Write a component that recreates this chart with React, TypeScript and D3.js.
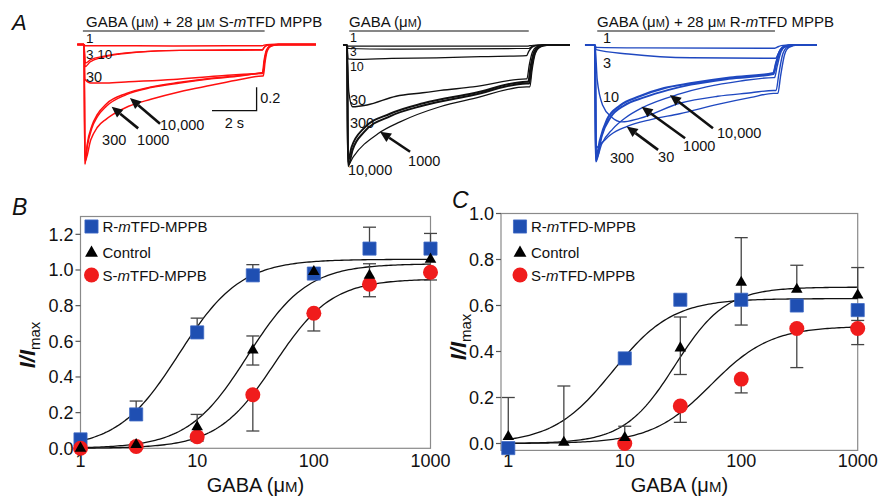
import React from 'react';
import * as d3 from 'd3';

const W = 878;
const H = 497;
const FONT = '"Liberation Sans", Arial, Helvetica, sans-serif';
type Pt = [number, number];

// ---------------- Panel A: current traces (time in s, current normalised to peak) ----------------
// recovery shape after GABA wash-out: [dt (s), fraction of current at end of application]
const recRed: Pt[] = [[0, 1], [0.08, 0.55], [0.18, 0.2], [0.35, 0.05], [0.7, 0]];
const recBlack: Pt[] = [[0, 1], [0.1, 0.6], [0.25, 0.2], [0.45, 0.05], [0.8, 0]];
const recBlue: Pt[] = [[0, 1], [0.12, 0.65], [0.3, 0.2], [0.5, 0.05], [0.9, 0]];

// GABA + S-mTFD-MPPB (red)
const sTrace1: Pt[] = [[0.05, 0.01], [4, 0.012], [8.0, 0.01]];
const sTrace3: Pt[] = [[0.06, 0.16], [0.3, 0.13], [0.9, 0.1], [2, 0.07], [4.3, 0.05], [8.0, 0.045]];
const sTrace10: Pt[] = [[0.05, 0.19], [0.27, 0.15], [0.83, 0.11], [1.6, 0.082], [2.35, 0.066], [4.3, 0.05], [6, 0.05], [8.0, 0.048]];
const sTrace30: Pt[] = [[0.05, 0.3], [0.3, 0.33], [1, 0.33], [2, 0.32], [4, 0.3], [6, 0.27], [8.0, 0.25]];
const sTrace300: Pt[] = [[0.05, 1.0], [0.3, 0.82], [0.6, 0.71], [1.0, 0.64], [1.3, 0.6], [2.0, 0.53], [3.0, 0.47], [4.3, 0.405], [5.7, 0.35], [7.0, 0.3], [8.0, 0.27]];
const sTrace1000: Pt[] = [[0.04, 1.03], [0.15, 0.85], [0.35, 0.7], [0.6, 0.6], [1.0, 0.51], [1.9, 0.42], [3.0, 0.365], [4.3, 0.325], [5.7, 0.29], [7.0, 0.265], [8.0, 0.24]];
const sTrace10000: Pt[] = [[0.04, 1.02], [0.15, 0.87], [0.35, 0.72], [0.6, 0.62], [1.0, 0.53], [1.9, 0.43], [3.0, 0.37], [4.3, 0.33], [5.7, 0.295], [7.0, 0.27], [8.0, 0.245]];

// GABA alone (black)
const cTrace1: Pt[] = [[0.05, 0.01], [8.05, 0.01]];
const cTrace3: Pt[] = [[0.05, 0.03], [2, 0.035], [8.05, 0.03]];
const cTrace10: Pt[] = [[0.05, 0.12], [0.3, 0.123], [2, 0.115], [4, 0.11], [6, 0.1], [8.05, 0.092]];
const cTrace30: Pt[] = [[0.08, 0.4], [0.25, 0.53], [0.9, 0.515], [2.2, 0.44], [3.4, 0.41], [4.2, 0.39], [5.65, 0.36], [8.05, 0.29]];
const cTrace300: Pt[] = [[0.04, 1.0], [0.2, 0.88], [0.73, 0.72], [1.93, 0.59], [3.42, 0.5], [5.66, 0.415], [8.05, 0.315]];
const cTrace1000: Pt[] = [[0.05, 1.03], [0.28, 0.96], [1.4, 0.76], [2.38, 0.66], [4.17, 0.53], [5.66, 0.46], [8.05, 0.36]];
const cTrace10000: Pt[] = [[0.05, 1.04], [0.25, 0.9], [0.75, 0.75], [1.95, 0.61], [3.42, 0.52], [5.66, 0.43], [8.05, 0.33]];

// GABA + R-mTFD-MPPB (blue)
const rTrace1: Pt[] = [[0.05, 0.02], [2, 0.025], [8.0, 0.028]];
const rTrace3: Pt[] = [[0.05, 0.04], [1.5, 0.077], [4.3, 0.11], [8.0, 0.114]];
const rTrace10: Pt[] = [[0.1, 0.3], [0.35, 0.52], [0.75, 0.62], [1.2, 0.66], [2, 0.63], [3.8, 0.5], [5.5, 0.44], [7, 0.41], [8.0, 0.39]];
const rTrace30: Pt[] = [[0.05, 0.88], [0.3, 0.84], [0.7, 0.77], [1.42, 0.7], [2.5, 0.64], [3.8, 0.59], [5.5, 0.51], [7, 0.45], [8.0, 0.415]];
const rTrace300: Pt[] = [[0.04, 1.0], [0.3, 0.78], [0.7, 0.62], [1.3, 0.52], [2.2, 0.45], [3.3, 0.385], [4.3, 0.34], [6, 0.29], [8.0, 0.25]];
const rTrace1000: Pt[] = [[0.05, 0.98], [0.3, 0.85], [0.8, 0.72], [1.4, 0.62], [2.1, 0.54], [3.8, 0.42], [5, 0.36], [6.5, 0.31], [8.0, 0.28]];
const rTrace10000: Pt[] = [[0.03, 0.99], [0.22, 0.82], [0.54, 0.64], [1.12, 0.52], [2.0, 0.44], [3.1, 0.37], [4.26, 0.33], [6.05, 0.28], [8.0, 0.24]];

// ---------------- Panel B / C: concentration-response data ----------------
const concAll = [1, 3, 10, 30, 100, 300, 1000];
const xTicks = [1, 10, 100, 1000];

// B
const bR = [0.05, 0.19, 0.65, 0.97, 0.98, 1.12, 1.12];
const bRHi = [null, 0.265, 0.73, 1.03, null, 1.24, 1.205];
const bCtl = [0.0, 0.02, 0.12, 0.55, 0.99, 0.97, 1.06];
const bCtlHi = [null, null, 0.19, 0.63, null, 1.035, 1.1];
const bCtlLo = [null, null, null, 0.467, null, null, null];
const bS = [0.0, 0.01, 0.065, 0.3, 0.757, 0.92, 0.987];
const bSLo = [null, null, 0.04, 0.097, 0.658, 0.85, 0.944];
const bYTicks = [0, 0.2, 0.4, 0.6, 0.8, 1.0, 1.2];
// Hill fits [R, Control, S]
const bFitTop = [1.06, 1.035, 0.95];
const bFitEC50 = [7.0, 27, 46];
const bFitN = [1.65, 1.7, 1.77];

// C
const cConcR = [1, 10, 30, 100, 300, 1000];
const cR = [-0.02, 0.37, 0.625, 0.625, 0.6, 0.58];
const cRLo = [null, null, null, null, null, 0.535];
const cCtl = [0.03, 0.005, 0.025, 0.415, 0.7, 0.67, 0.645];
const cCtlHi = [0.2, 0.25, 0.075, 0.55, 0.895, 0.775, 0.765];
const cCtlLo = [null, null, null, 0.3, 0.515, null, null];
const cConcS = [10, 30, 100, 300, 1000];
const cS = [0.0, 0.163, 0.28, 0.5, 0.5];
const cSLo = [null, 0.092, 0.22, 0.33, 0.43];
const cYTicks = [0, 0.2, 0.4, 0.6, 0.8, 1.0];
const cFitTop = [0.63, 0.68, 0.51];
const cFitEC50 = [7.9, 27, 55];
const cFitN = [1.7, 2.0, 1.7];

const RED = '#f01c1c';
const BLUE = '#1f4fb2';
const TRACE_RED = '#ff1010';
const TRACE_BLUE = '#1f48c0';

const PX_PER_S = 22.3;
const PX_PER_UNIT = 116.5;

type Ann = { text: string; t: number; i: number; size?: number };
type Arrow = { from: Pt; to: Pt };

function Micro({ size }: { size: number }) {
  return (
    <>
      μ<tspan fontSize={size}>M</tspan>
    </>
  );
}

function TracePanel(props: {
  x0: number;
  y0: number;
  tMin: number;
  tMax: number;
  traces: Pt[][];
  delays: number[];
  widths: number[];
  rec: Pt[];
  color: string;
  labels: Ann[];
  arrows: Arrow[];
  bar: [number, number];
  title: React.ReactNode;
  titleX: number;
  scaleBar?: boolean;
}) {
  const { x0, y0, tMin, tMax, traces, delays, widths, rec, color, labels, arrows, bar, title, titleX } = props;
  const xs = d3.scaleLinear().domain([0, 1]).range([x0, x0 + PX_PER_S]);
  const ys = d3.scaleLinear().domain([0, 1]).range([y0, y0 + PX_PER_UNIT]);
  const line = d3
    .line<Pt>()
    .x((d) => xs(d[0]))
    .y((d) => ys(d[1]))
    .curve(d3.curveMonotoneX);

  const build = (pts: Pt[], delay: number): Pt[] => {
    const last = pts[pts.length - 1];
    const all: Pt[] = [[tMin, 0], [0, 0], ...pts];
    rec.forEach(([dt, f]) => all.push([last[0] + delay + dt, last[1] * f]));
    all.push([tMax, 0]);
    const out: Pt[] = [];
    all.forEach((p) => {
      if (out.length === 0 || p[0] > out[out.length - 1][0] + 1e-6) out.push(p);
    });
    return out;
  };

  return (
    <g>
      <text x={titleX} y={26.5} fontSize={15} fill="#111">
        {title}
      </text>
      <line x1={xs(bar[0])} x2={xs(bar[1])} y1={31} y2={31} stroke="#111" strokeWidth={1.2} />
      {traces.map((pts, k) => (
        <path
          key={k}
          d={line(build(pts, delays[k])) || ''}
          fill="none"
          stroke={color}
          strokeWidth={widths[k]}
          strokeLinejoin="round"
        />
      ))}
      {labels.map((a, k) => (
        <text key={k} x={xs(a.t)} y={ys(a.i)} fontSize={a.size || 14.5} fill="#111">
          {a.text}
        </text>
      ))}
      {arrows.map((a, k) => {
        const x1 = xs(a.from[0]);
        const y1 = ys(a.from[1]);
        const x2 = xs(a.to[0]);
        const y2 = ys(a.to[1]);
        const ang = Math.atan2(y2 - y1, x2 - x1);
        const hl = 11;
        const hw = 5;
        const bx = x2 - hl * Math.cos(ang);
        const by = y2 - hl * Math.sin(ang);
        const px = -Math.sin(ang) * hw;
        const py = Math.cos(ang) * hw;
        return (
          <g key={k}>
            <line x1={x1} y1={y1} x2={bx} y2={by} stroke="#111" strokeWidth={2.6} />
            <polygon points={`${x2},${y2} ${bx + px},${by + py} ${bx - px},${by - py}`} fill="#111" />
          </g>
        );
      })}
      {props.scaleBar && (
        <g>
          <path
            d={`M${xs(5.74)},${ys(0.567)} H${xs(7.74)} V${ys(0.367)}`}
            fill="none"
            stroke="#111"
            strokeWidth={1.3}
          />
          <text x={xs(7.9)} y={ys(0.502)} fontSize={14.5} fill="#111">
            0.2
          </text>
          <text x={xs(6.74)} y={ys(0.717)} fontSize={14.5} textAnchor="middle" fill="#111">
            2 s
          </text>
        </g>
      )}
    </g>
  );
}

type Series = {
  conc: number[];
  vals: number[];
  hi?: (number | null)[];
  lo?: (number | null)[];
  kind: 'square' | 'circle' | 'triangle';
};

function DoseResponse(props: {
  xDomain: [number, number];
  xRange: [number, number];
  yDomain: [number, number];
  yRange: [number, number];
  yTicks: number[];
  series: Series[];
  fitTop: number[];
  fitEC50: number[];
  fitN: number[];
  letter: string;
  letterPos: Pt;
  legendX: number;
  yTitleX: number;
  yTitleY: number;
}) {
  const { xDomain, xRange, yDomain, yRange, yTicks, series, fitTop, fitEC50, fitN } = props;
  const xs = d3.scaleLog().domain(xDomain).range(xRange);
  const ys = d3.scaleLinear().domain(yDomain).range(yRange);
  const fitLine = d3
    .line<Pt>()
    .x((d) => xs(d[0]))
    .y((d) => ys(d[1]));
  const logSteps = d3.range(0, 3.0001, 0.02);
  const capW = 6.5;
  const sq = d3.symbol().type(d3.symbolSquare).size(172)();
  const tri = d3.symbol().type(d3.symbolTriangle).size(58)();
  const triLeg = d3.symbol().type(d3.symbolTriangle).size(72)();
  const order = ['square', 'circle', 'triangle'];
  const sorted = [...series].sort((a, b) => order.indexOf(a.kind) - order.indexOf(b.kind));
  const lx = props.legendX;
  const xTitleX = (xRange[0] + xRange[1]) / 2;

  const marker = (kind: string, x: number, y: number, key: any, legend = false) => {
    if (kind === 'square')
      return <path key={key} d={sq || ''} transform={`translate(${x},${y})`} fill={BLUE} stroke="#3d68c4" strokeWidth={0.8} />;
    if (kind === 'circle') return <circle key={key} cx={x} cy={y} r={7.5} fill={RED} />;
    return <path key={key} d={(legend ? triLeg : tri) || ''} transform={`translate(${x},${y})`} fill="#000" />;
  };

  return (
    <g>
      <text x={props.letterPos[0]} y={props.letterPos[1]} fontSize={23} fontStyle="italic" fill="#111">
        {props.letter}
      </text>
      <rect
        x={xRange[0]}
        y={yRange[1]}
        width={xRange[1] - xRange[0]}
        height={yRange[0] - yRange[1]}
        fill="none"
        stroke="#8a8a8a"
        strokeWidth={1.2}
      />
      {yTicks.map((v) => (
        <g key={v}>
          <line x1={xRange[0] - 5} x2={xRange[0]} y1={ys(v)} y2={ys(v)} stroke="#555" strokeWidth={1.2} />
          <text x={xRange[0] - 7} y={ys(v)} dy="0.36em" textAnchor="end" fontSize={18} fill="#111">
            {v.toFixed(1)}
          </text>
        </g>
      ))}
      {xTicks.map((v) => (
        <text key={v} x={xs(v)} y={467} textAnchor="middle" fontSize={18} fill="#111">
          {v}
        </text>
      ))}
      <text x={xTitleX} y={492} textAnchor="middle" fontSize={20} fill="#111">
        GABA (<Micro size={15} />)
      </text>
      <text
        transform={`translate(${props.yTitleX},${props.yTitleY}) rotate(-90)`}
        textAnchor="middle"
        fontSize={22}
        fill="#111"
      >
        <tspan fontStyle="italic" fontWeight="bold">
          I/I
        </tspan>
        <tspan fontSize={15} dy={5}>
          max
        </tspan>
      </text>
      {/* fits */}
      {fitTop.map((top, k) => {
        const pts: Pt[] = logSteps.map((l) => {
          const c = Math.pow(10, l);
          return [c, top / (1 + Math.pow(fitEC50[k] / c, fitN[k]))];
        });
        return <path key={k} d={fitLine(pts) || ''} fill="none" stroke="#111" strokeWidth={1.3} />;
      })}
      {/* error bars */}
      {series.map((s, si) =>
        s.conc.map((c, k) => {
          const x = xs(c);
          const v = s.vals[k];
          const hi = s.hi ? s.hi[k] : null;
          const lo = s.lo ? s.lo[k] : null;
          return (
            <g key={`${si}-${k}`} stroke="#444" strokeWidth={1.3}>
              {hi != null && (
                <>
                  <line x1={x} x2={x} y1={ys(v)} y2={ys(hi)} />
                  <line x1={x - capW} x2={x + capW} y1={ys(hi)} y2={ys(hi)} />
                </>
              )}
              {lo != null && (
                <>
                  <line x1={x} x2={x} y1={ys(v)} y2={ys(lo)} />
                  <line x1={x - capW} x2={x + capW} y1={ys(lo)} y2={ys(lo)} />
                </>
              )}
            </g>
          );
        })
      )}
      {/* markers */}
      {sorted.map((s, si) => s.conc.map((c, k) => marker(s.kind, xs(c), ys(s.vals[k]), `${si}-${k}`)))}
      {/* legend */}
      <g>
        {marker('square', lx, 226.5, 'ls', true)}
        <text x={lx + 11} y={232} fontSize={15} fill="#111">
          R-<tspan fontStyle="italic">m</tspan>TFD-MPPB
        </text>
        {marker('triangle', lx, 253, 'lt', true)}
        <text x={lx + 11} y={257.5} fontSize={15} fill="#111">
          Control
        </text>
        {marker('circle', lx, 275, 'lc', true)}
        <text x={lx + 11} y={281} fontSize={15} fill="#111">
          S-<tspan fontStyle="italic">m</tspan>TFD-MPPB
        </text>
      </g>
    </g>
  );
}

export default function App() {
  const redLabels: Ann[] = [
    { text: '1', t: 0.09, i: -0.017, size: 13.5 },
    { text: '3 10', t: 0.09, i: 0.124, size: 13.5 },
    { text: '30', t: 0.09, i: 0.32 },
    { text: '300', t: 0.81, i: 0.863 },
    { text: '1000', t: 2.38, i: 0.863 },
    { text: '10,000', t: 3.41, i: 0.734 },
  ];
  const redArrows: Arrow[] = [
    { from: [2.43, 0.72], to: [1.24, 0.534] },
    { from: [3.41, 0.68], to: [2.06, 0.46] },
  ];
  const blackLabels: Ann[] = [
    { text: '1', t: 0.13, i: -0.03, size: 12.5 },
    { text: '3', t: 0.13, i: 0.094, size: 12 },
    { text: '10', t: 0.13, i: 0.219, size: 12.5 },
    { text: '30', t: 0.13, i: 0.515 },
    { text: '300', t: 0.13, i: 0.712 },
    { text: '10,000', t: 0.04, i: 1.116 },
    { text: '1000', t: 2.74, i: 1.04 },
  ];
  const blackArrows: Arrow[] = [{ from: [2.83, 0.916], to: [1.48, 0.744] }];
  const blueLabels: Ann[] = [
    { text: '1', t: 0.36, i: -0.017 },
    { text: '3', t: 0.36, i: 0.197 },
    { text: '10', t: 0.36, i: 0.489 },
    { text: '300', t: 0.67, i: 1.013 },
    { text: '30', t: 2.83, i: 1.004 },
    { text: '1000', t: 3.95, i: 0.91 },
    { text: '10,000', t: 5.47, i: 0.798 },
  ];
  const blueArrows: Arrow[] = [
    { from: [2.83, 0.9], to: [1.42, 0.7] },
    { from: [4.04, 0.8], to: [2.09, 0.53] },
    { from: [5.29, 0.715], to: [3.36, 0.43] },
  ];

  return (
    <svg
      width={W}
      height={H}
      viewBox={`0 0 ${W} ${H}`}
      style={{ position: 'absolute', left: 0, top: 0, background: '#fff' }}
      fontFamily={FONT}
    >
      <rect width={W} height={H} fill="#fff" />
      <text x={12} y={30} fontSize={22} fontStyle="italic" fill="#111">
        A
      </text>
      <TracePanel
        x0={84}
        y0={44.5}
        tMin={-0.3}
        tMax={10.4}
        traces={[sTrace1, sTrace3, sTrace10, sTrace30, sTrace300, sTrace1000, sTrace10000]}
        delays={[0, 0, 0, 0.02, 0.04, 0, 0.02]}
        widths={[1.5, 1.4, 1.4, 1.4, 1.5, 1.5, 1.5]}
        rec={recRed}
        color={TRACE_RED}
        labels={redLabels}
        arrows={redArrows}
        bar={[-0.05, 8.1]}
        titleX={86}
        title={
          <>
            GABA (<Micro size={11} />) + 28 <Micro size={11} /> S-<tspan fontStyle="italic">m</tspan>TFD MPPB
          </>
        }
        scaleBar
      />
      <TracePanel
        x0={347}
        y0={45}
        tMin={-0.18}
        tMax={10.0}
        traces={[cTrace1, cTrace3, cTrace10, cTrace30, cTrace300, cTrace1000, cTrace10000]}
        delays={[0.05, 0.1, 0.0, 0.02, 0.08, 0.15, 0.12]}
        widths={[1.2, 1.2, 1.3, 1.3, 2.0, 1.2, 2.0]}
        rec={recBlack}
        color="#111"
        labels={blackLabels}
        arrows={blackArrows}
        bar={[0.1, 8.15]}
        titleX={349}
        title={
          <>
            GABA (<Micro size={11} />)
          </>
        }
      />
      <TracePanel
        x0={595}
        y0={45}
        tMin={-0.45}
        tMax={9.94}
        traces={[rTrace1, rTrace3, rTrace10, rTrace30, rTrace300, rTrace1000, rTrace10000]}
        delays={[0.05, 0.1, 0.12, 0.2, 0, 0.05, 0]}
        widths={[1.4, 1.4, 1.4, 1.4, 2.0, 1.4, 2.2]}
        rec={recBlue}
        color={TRACE_BLUE}
        labels={blueLabels}
        arrows={blueArrows}
        bar={[0.1, 8.07]}
        titleX={597}
        title={
          <>
            GABA (<Micro size={11} />) + 28 <Micro size={11} /> R-<tspan fontStyle="italic">m</tspan>TFD MPPB
          </>
        }
      />
      <DoseResponse
        xDomain={[1, 1000]}
        xRange={[80.5, 430.5]}
        yDomain={[0, 1.3]}
        yRange={[448.3, 216.5]}
        yTicks={bYTicks}
        series={[
          { conc: concAll, vals: bR, hi: bRHi, kind: 'square' },
          { conc: concAll, vals: bCtl, hi: bCtlHi, lo: bCtlLo, kind: 'triangle' },
          { conc: concAll, vals: bS, lo: bSLo, kind: 'circle' },
        ]}
        fitTop={bFitTop}
        fitEC50={bFitEC50}
        fitN={bFitN}
        letter="B"
        letterPos={[12, 215]}
        legendX={91.5}
        yTitleX={35}
        yTitleY={345}
      />
      <DoseResponse
        xDomain={[0.866, 1000]}
        xRange={[501, 857.7]}
        yDomain={[-0.03, 1.0]}
        yRange={[450.4, 213.5]}
        yTicks={cYTicks}
        series={[
          { conc: cConcR, vals: cR, lo: cRLo, kind: 'square' },
          { conc: concAll, vals: cCtl, hi: cCtlHi, lo: cCtlLo, kind: 'triangle' },
          { conc: cConcS, vals: cS, lo: cSLo, kind: 'circle' },
        ]}
        fitTop={cFitTop}
        fitEC50={cFitEC50}
        fitN={cFitN}
        letter="C"
        letterPos={[452, 208]}
        legendX={520}
        yTitleX={466}
        yTitleY={337}
      />
    </svg>
  );
}
